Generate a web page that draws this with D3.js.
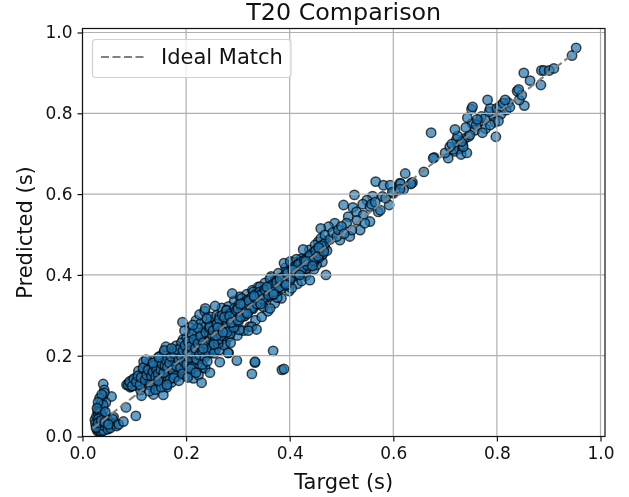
<!DOCTYPE html>
<html><head><meta charset="utf-8">
<script src="https://cdn.jsdelivr.net/npm/d3@7"></script>
<style>html,body{margin:0;padding:0;background:#fff}svg{display:block}#c{filter:blur(0.45px)}text{font-family:"DejaVu Sans",sans-serif;fill:#111}</style>
</head><body><svg id="c" width="629" height="497"></svg>
<script>
const title="T20 Comparison", xLabel="Target (s)", yLabel="Predicted (s)", legendLabel="Ideal Match";
const tickLabels=[0,0.2,0.4,0.6,0.8,1.0];
const idealLine=[0.02,0.955];
// near-zero cluster
const headTarget=[.040,.042,.056,.037,.031,.040,.060,.063,.053,.027,.034,.024,.028,.030,.033,.036,.038,.041,.044,.047,.050,.025,.027,.029,.031,.034,.036,.039,.042,.045,.048,.052,.056,.029,.032,.035,.038,.041,.033,.037,.040,.030,.034,.038,.043,.047,.028,.031,.035,.039,.044,.049,.054,.058,.066,.070,.026,.030,.036,.043,.050];
const headPred=[.130,.115,.099,.090,.074,.066,.048,.033,.024,.028,.016,.041,.018,.021,.024,.020,.017,.019,.022,.019,.026,.032,.050,.062,.055,.072,.082,.100,.108,.084,.041,.036,.030,.013,.014,.012,.013,.015,.095,.104,.078,.085,.060,.052,.045,.031,.070,.044,.036,.028,.061,.018,.021,.043,.026,.030,.022,.034,.040,.035,.030];
// low band
const lowTarget=[.084,.103,.079,.085,.090,.092,.095,.098,.100,.102,.105,.108,.110,.112,.115,.118,.120,.122,.125,.128,.130,.132,.135,.137,.140,.142,.145,.147,.150,.152,.155,.156,.158,.160,.162,.163,.165,.167,.170,.172,.175,.177,.180,.182,.185,.187,.190,.192,.193,.195,.197,.200,.202,.205,.207,.210,.212,.214,.215,.217,.219,.220,.222,.224,.225,.227,.230,.232,.234,.235,.237,.237,.239,.240,.242,.244,.246,.246,.248,.250,.094,.108,.116,.126,.134,.144,.149,.157,.166,.173,.181,.188,.194,.199,.204,.209,.216,.221,.228,.233,.118,.128,.139,.148,.154,.161,.169,.176,.183,.191,.196,.201,.206,.211,.218,.223,.229,.238,.243,.114,.137,.156,.163,.214,.224,.230];
const lowPred=[.072,.051,.037,.128,.132,.122,.138,.126,.142,.130,.146,.125,.136,.115,.158,.141,.172,.128,.150,.182,.137,.162,.175,.118,.190,.145,.168,.132,.155,.196,.178,.142,.124,.200,.165,.148,.188,.205,.158,.134,.212,.178,.195,.148,.162,.218,.182,.205,.283,.172,.225,.192,.150,.212,.270,.182,.235,.200,.160,.262,.287,.222,.190,.245,.210,.278,.225,.170,.255,.200,.272,.169,.240,.292,.220,.262,.282,.158,.208,.245,.124,.162,.148,.165,.130,.178,.150,.208,.174,.195,.225,.168,.240,.205,.178,.215,.190,.250,.232,.214,.185,.128,.155,.198,.185,.222,.142,.192,.172,.232,.195,.245,.228,.255,.205,.268,.195,.232,.205,.101,.104,.103,.122,.144,.152,.133];
// extra points in the densest low blobs
const denseLowTarget=[.088,.091,.096,.099,.104,.107,.111,.113,.117,.121,.124,.127,.131,.133,.136,.138,.141,.143,.146,.148,.151,.153,.157,.159,.161,.164,.168,.171,.174,.178,.179,.181,.184,.186,.189,.191,.194,.196,.198,.201,.203,.204,.206,.208,.211,.213,.215,.218,.220,.223,.226,.228,.231,.233,.236,.238,.241,.243,.245,.247,.249,.251,.253,.255,.257,.259,.261,.263,.266,.268,.271,.273,.276,.278,.281,.284,.287,.290,.293,.296];
const denseLowPred=[.128,.136,.125,.143,.135,.150,.128,.146,.170,.140,.152,.165,.128,.150,.160,.176,.148,.166,.155,.188,.165,.180,.158,.175,.190,.172,.182,.198,.165,.205,.150,.175,.215,.190,.170,.198,.212,.185,.225,.178,.208,.235,.195,.222,.172,.205,.240,.218,.192,.230,.202,.248,.212,.232,.195,.258,.225,.210,.268,.240,.218,.250,.232,.262,.215,.280,.248,.228,.270,.240,.288,.255,.232,.298,.268,.248,.292,.262,.305,.275];
// scattered points that widen the band
const scatterTarget=[.123,.129,.136,.141,.147,.152,.146,.158,.163,.172,.176,.186,.193,.197,.203,.209,.213,.219,.226,.231,.236,.241,.248,.254,.259,.264,.269,.274,.282,.286,.293,.299,.304,.311,.317,.323,.328,.334,.339,.346,.352,.358,.364,.371,.378,.384,.392,.399,.407,.415,.422,.431,.438,.447,.455,.463];
const scatterPred=[.190,.112,.182,.116,.196,.122,.138,.213,.128,.218,.145,.138,.155,.262,.146,.168,.276,.158,.302,.178,.310,.186,.296,.206,.300,.214,.318,.226,.322,.232,.336,.250,.346,.262,.352,.272,.362,.288,.370,.296,.380,.310,.396,.330,.404,.342,.418,.360,.432,.378,.440,.398,.462,.414,.482,.432];
// mid band
const midTarget=[.237,.256,.265,.298,.282,.333,.327,.385,.389,.368,.327,.336,.320,.303,.281,.333,.285,.246,.262,.233,.278,.291,.265,.310,.240,.277,.289,.307,.323,.349,.362,.307,.336,.352,.330,.343,.376,.372,.388,.404,.423,.439,.362,.389,.401,.413,.430,.452,.446,.462,.426,.449,.470,
.252,.256,.259,.262,.264,.267,.270,.272,.275,.278,.280,.283,.286,.288,.291,.294,.296,.299,.302,.304,.307,.310,.312,.315,.318,.320,.323,.326,.328,.331,.334,.336,.339,.342,.344,.347,.350,.352,.355,.358,.360,.363,.366,.368,.371,.374,.376,.379,.382,.384,.387,.390,.392,.395,.398,.400,.403,.406,.408,.411,.414,.416,.419,.422,.424,.427,.430,.432,.435,.438,.440,.443,.446,.448,.451,.454,.456,.459,.462,.464,.467,.470,.472,
.254,.261,.268,.274,.279,.284,.292,.297,.301,.306,.313,.319,.325,.332,.338,.345,.351,.357,.364,.370,.377,.383,.391,.397,.405,.412,.418,.425,.433,.441,.449,.457,.465,.258,.271,.287,.300,.316,.329,.341,.354,.367,.380,.394,.409,.421,.436,.450,.460,.468,
.300,.305,.311,.316,.321,.327,.333,.337,.343,.348,.353,.359,.365,.369,.375,.380,.386,.390,.396,.402,.407,.413,.417,.423,.428,.434,.439,.445,.450,.455,.461,.466,.305,.318,.331,.344,.356,.369,.381,.393,.406,.419,.431,.444,.456];
const midPred=[.317,.323,.184,.188,.207,.183,.155,.165,.167,.212,.272,.265,.262,.264,.207,.185,.255,.272,.231,.218,.313,.301,.297,.297,.292,.284,.354,.342,.330,.321,.317,.323,.338,.350,.358,.371,.344,.387,.391,.367,.385,.387,.391,.429,.433,.439,.414,.425,.453,.449,.463,.474,.400,
.262,.245,.278,.240,.290,.262,.300,.268,.262,.312,.280,.272,.305,.290,.282,.318,.302,.288,.326,.298,.312,.330,.304,.322,.338,.310,.328,.344,.320,.336,.352,.326,.342,.358,.334,.350,.362,.340,.356,.368,.346,.362,.376,.352,.368,.384,.360,.374,.392,.366,.384,.398,.374,.392,.408,.386,.402,.416,.396,.410,.424,.402,.418,.430,.412,.426,.438,.416,.432,.446,.424,.440,.456,.434,.450,.464,.442,.456,.470,.452,.468,.482,.460,
.228,.270,.250,.295,.258,.298,.270,.312,.284,.322,.298,.306,.318,.325,.330,.336,.345,.356,.352,.362,.368,.378,.380,.395,.398,.402,.412,.420,.428,.444,.440,.462,.474,.250,.258,.282,.288,.332,.316,.348,.360,.358,.370,.408,.420,.432,.442,.444,.490,.478,
.316,.296,.326,.308,.336,.318,.344,.328,.350,.340,.362,.350,.372,.358,.382,.370,.392,.380,.404,.392,.416,.404,.426,.414,.436,.424,.448,.436,.460,.446,.472,.458,.328,.304,.348,.328,.370,.352,.390,.376,.412,.400,.434,.422,.468];
// upper band
const upTarget=[.566,.581,.594,.613,.635,.610,.600,.579,.560,.525,.549,.541,.504,.522,.555,.571,.592,.529,.513,.542,.555,.510,.487,.475,.460,.468,.497,.516,.536,.520,.478,.483,.491,.494,.500,.505,.530,.545,.558,.585,.575,.565,.598,.620,.718,.722,.728,.734,.738,.752,.758,.766,.770,.778,.792,.796,.808,.818,.822,
.623,.637,.634,.614,.613,.659,.679,.677,.706,.700,.731,.742,.735,.716,.709,.713,.732,.724,.745,.748,.798,.772,.673,.719,.740,.760,.787,.803,.777,.762,.743,.751,.753,.785,.787,.800,.825,.806,.812,.816,.782,.853,.843,.848,.839,.842,.885,.864,.852,.886,.891,.901,.910,.945,.953];
const upPred=[.631,.622,.622,.627,.627,.610,.602,.594,.595,.598,.585,.575,.573,.567,.569,.556,.573,.556,.544,.548,.532,.528,.528,.519,.515,.499,.486,.495,.511,.511,.488,.505,.495,.512,.520,.502,.535,.528,.575,.590,.560,.580,.605,.612,.706,.735,.712,.722,.738,.775,.758,.780,.792,.762,.795,.778,.798,.808,.826,
.651,.629,.625,.626,.612,.655,.691,.689,.689,.702,.698,.702,.717,.711,.717,.724,.730,.744,.742,.746,.742,.752,.752,.760,.765,.771,.771,.781,.787,.785,.789,.810,.816,.804,.812,.812,.815,.818,.825,.833,.833,.819,.833,.845,.855,.859,.870,.881,.900,.906,.906,.906,.911,.943,.962];

const target=[...headTarget,...lowTarget,...denseLowTarget,...scatterTarget,...midTarget,...upTarget];
const predicted=[...headPred,...lowPred,...denseLowPred,...scatterPred,...midPred,...upPred];

const x=d3.scaleLinear().domain([0,1]).range([82.5,600.5]);
const y=d3.scaleLinear().domain([0,1]).range([436.5,32.5]);
const L=82.5,R=605,T=28.5,B=436.5;
const svg=d3.select("#c");

svg.append("g").selectAll("circle").data(target).join("circle")
 .attr("cx",d=>x(d)).attr("cy",(d,i)=>y(predicted[i])).attr("r",4.7)
 .attr("fill","rgba(31,119,180,0.7)").attr("stroke","rgba(0,0,0,0.7)").attr("stroke-width",1.5);

const xAxis=d3.axisBottom(x).tickValues(tickLabels).tickFormat(d3.format(".1f")).tickSize(5).tickPadding(5);
const yAxis=d3.axisLeft(y).tickValues(tickLabels).tickFormat(d3.format(".1f")).tickSize(5).tickPadding(5);

const grid=svg.append("g").attr("stroke","#b0b0b0").attr("stroke-width",1.2);
grid.selectAll("line.gx").data(tickLabels).join("line").attr("x1",d=>x(d)).attr("x2",d=>x(d)).attr("y1",T).attr("y2",B);
grid.append("g").selectAll("line").data(tickLabels).join("line").attr("x1",L).attr("x2",R).attr("y1",d=>y(d)).attr("y2",d=>y(d));

svg.append("line").attr("x1",x(idealLine[0])).attr("y1",y(idealLine[0])).attr("x2",x(idealLine[1])).attr("y2",y(idealLine[1]))
 .attr("stroke","#808080").attr("stroke-width",2.1).attr("stroke-dasharray","8,3.5");

const gx=svg.append("g").attr("transform",`translate(0,${B})`).call(xAxis);
const gy=svg.append("g").attr("transform",`translate(${L},0)`).call(yAxis);
[gx,gy].forEach(g=>{g.select(".domain").remove();g.selectAll("line").attr("stroke","#111").attr("stroke-width",1.2);g.selectAll("text").attr("font-size",17).attr("font-family",'"DejaVu Sans"').attr("fill","#111");});

svg.append("rect").attr("x",L).attr("y",T).attr("width",R-L).attr("height",B-T).attr("fill","none").attr("stroke","#111").attr("stroke-width",1.2);

svg.append("text").attr("x",(L+R)/2).attr("y",20).attr("text-anchor","middle").attr("font-size",23.8).text(title);
svg.append("text").attr("x",(L+R)/2).attr("y",489).attr("text-anchor","middle").attr("font-size",21).text(xLabel);
svg.append("text").attr("transform",`translate(32,${(T+B)/2}) rotate(-90)`).attr("text-anchor","middle").attr("font-size",21).text(yLabel);

const lg=svg.append("g");
lg.append("rect").attr("x",92.5).attr("y",39.5).attr("width",198.5).attr("height",38).attr("rx",3.5).attr("fill","rgba(255,255,255,0.8)").attr("stroke","#d0d0d0").attr("stroke-width",1.2);
lg.append("line").attr("x1",101).attr("x2",144).attr("y1",57).attr("y2",57).attr("stroke","#808080").attr("stroke-width",2.1).attr("stroke-dasharray","8,3.5");
lg.append("text").attr("x",161).attr("y",64).attr("font-size",21).text(legendLabel);
</script></body></html>
